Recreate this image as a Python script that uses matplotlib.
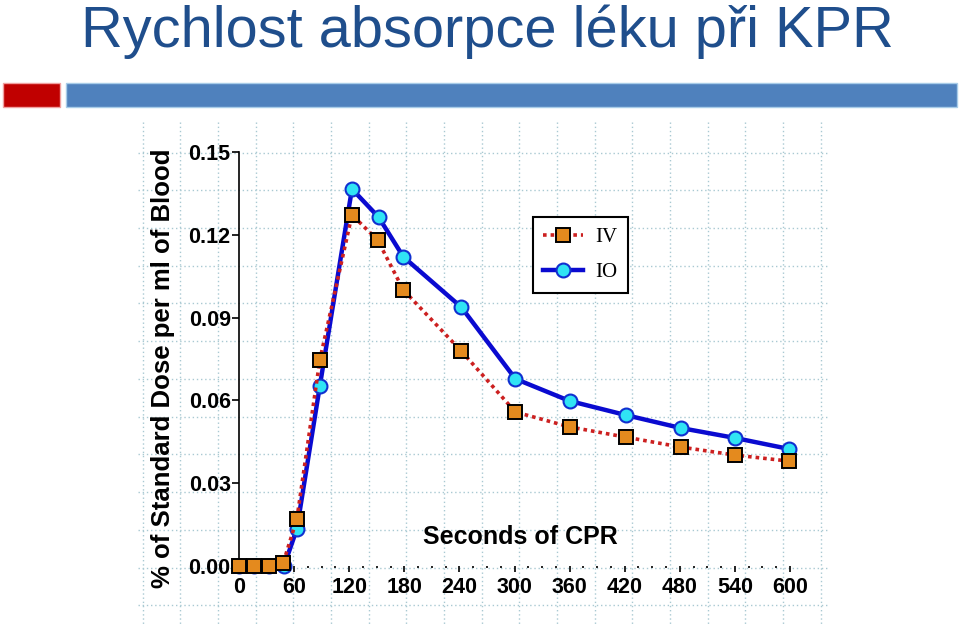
import numpy as np
import matplotlib
matplotlib.use("Agg")
import matplotlib.pyplot as plt
from matplotlib.patches import Rectangle
from matplotlib.ticker import MultipleLocator, FormatStrFormatter

plt.rcParams["font.family"] = ["Liberation Sans", "DejaVu Sans"]

# data
iv_sec = [0, 16, 33, 48, 63, 88, 123, 151, 179, 242, 301, 360, 421, 481, 540, 599]
iv_dose = [0.0, 0.0, 0.0, 0.001, 0.0170, 0.0746, 0.1272, 0.1181, 0.1000, 0.0779,
           0.0558, 0.0504, 0.0467, 0.0431, 0.0402, 0.0380]
io_sec = [0, 16, 33, 49, 63, 88, 123, 152, 179, 242, 301, 360, 421, 481, 540, 599]
io_dose = [0.0, 0.0, 0.0, 0.0, 0.0134, 0.0652, 0.1366, 0.1264, 0.1120, 0.0938,
           0.0678, 0.0598, 0.0547, 0.0500, 0.0464, 0.0424]
y_ticks = [0.00, 0.03, 0.06, 0.09, 0.12, 0.15]
x_ticks = list(range(0, 601, 60))

W, H = 960, 625
fig = plt.figure(figsize=(W / 100, H / 100), dpi=100)

# background graph-paper grid (pixel coordinates)
bg = fig.add_axes([0, 0, 1, 1], zorder=0)
bg.set_xlim(0, W); bg.set_ylim(H, 0); bg.set_axis_off()
gx = 142.5 + 37.67 * np.arange(19)
gy = 152.5 + 37.73 * np.arange(13)
bg.vlines(gx, 122, H, colors="#a9c9d2", lw=1.0, linestyles=(0, (1, 2)))
bg.hlines(gy, 138, 828, colors="#a9c9d2", lw=1.0, linestyles=(0, (1, 2)))

# slide header
fig.text(81 / W, 1 - 47 / H, "Rychlost absorpce léku při KPR", fontsize=41.6,
         color="#1f4e8c", va="baseline", ha="left")
fig.patches.append(Rectangle((3 / W, 1 - 107 / H), 57 / W, 24 / H, transform=fig.transFigure,
                             facecolor="#c00000", edgecolor="#f0a0a0", lw=1, figure=fig))
fig.patches.append(Rectangle((66 / W, 1 - 107 / H), 891 / W, 24 / H, transform=fig.transFigure,
                             facecolor="#4f81bd", edgecolor="#a8cce8", lw=1, figure=fig))

ax = fig.add_axes([239 / W, 59 / H, 551 / W, 414 / H], zorder=2)
ax.patch.set_alpha(0)
ax.plot(io_sec, io_dose, color="#0a0ad0", lw=3.2, marker="o", ms=10,
        mfc="#30e4f4", mec="#1030d0", mew=1.5, clip_on=False, zorder=3, label="IO")
ax.plot(iv_sec, iv_dose, color="#cc2020", lw=2.6, ls=(0, (1, 1.1)), marker="s", ms=9.5,
        mfc="#e48a1e", mec="black", mew=1.4, clip_on=False, zorder=4, label="IV")

ax.set_xlim(0, 600)
ax.set_ylim(0, 0.15)
for s in ["top", "right", "bottom"]:
    ax.spines[s].set_visible(False)
ax.spines["left"].set_linewidth(1.2)
ax.set_yticks(y_ticks)
ax.yaxis.set_major_formatter(FormatStrFormatter("%.2f"))
ax.set_xticks(x_ticks)
ax.xaxis.set_minor_locator(MultipleLocator(15))
ax.tick_params(axis="y", direction="out", length=5, width=1.2, pad=1, labelsize=15.5)
ax.tick_params(axis="x", which="major", direction="out", length=4, width=1.2, pad=4,
               labelsize=15.5)
ax.tick_params(axis="x", which="minor", direction="out", length=1.5, width=1.2)
for lab in ax.get_xticklabels() + ax.get_yticklabels():
    lab.set_fontweight("bold")

fig.text(163 / W, 1 - 368 / H, "% of Standard Dose per ml of Blood", rotation=90,
         fontsize=18.5, fontweight="bold", ha="center", va="center")
fig.text(520 / W, 1 - 537 / H, "Seconds of CPR", fontsize=18, fontweight="bold",
         ha="center", va="center")

h, l = ax.get_legend_handles_labels()
leg = ax.legend(h[::-1], l[::-1], loc="upper left", bbox_to_anchor=(533 / W, 1 - 217 / H),
                bbox_transform=fig.transFigure, prop={"family": "Liberation Serif", "size": 15},
                fancybox=False, framealpha=1, edgecolor="black", handlelength=1.9,
                handletextpad=0.6, borderpad=0.5, labelspacing=0.75, borderaxespad=0)
leg.get_frame().set_linewidth(1.5)

fig.savefig("out.png", dpi=100)
